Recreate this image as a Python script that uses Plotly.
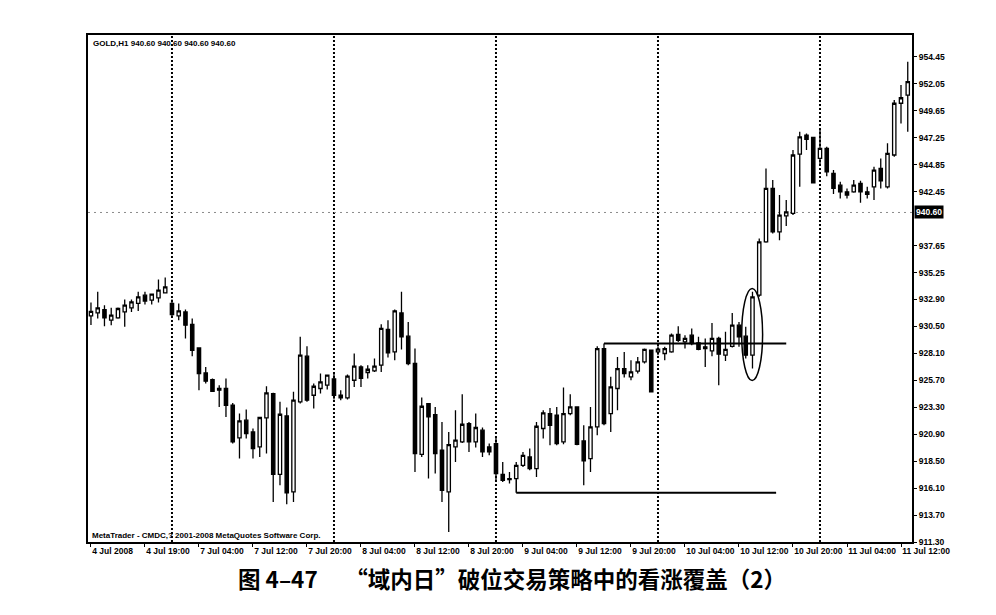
import plotly.graph_objects as go

# ---------------- data (GOLD, H1) ----------------
BAR_INDEX = list(range(-12, 110))  # hourly bars, 0 = 7 Jul 00:00

OPEN = [931.40, 931.67, 931.97, 931.02, 931.23, 931.76, 932.12, 932.51, 933.25, 932.80, 933.01, 933.45,
        932.51, 931.41, 931.76, 930.64, 928.56, 926.33, 925.74, 924.95, 924.95, 923.46, 920.55, 922.13,
        921.09, 919.75, 922.33, 924.50, 917.32, 922.51, 915.75, 923.76, 927.82, 924.35, 924.95, 925.24,
        925.80, 924.35, 924.11, 925.68, 926.87, 926.37, 926.51, 927.02, 930.20, 928.20, 931.67, 929.60,
        927.17, 919.10, 923.61, 922.63, 919.46, 915.75, 919.75, 920.20, 921.83, 920.20, 921.24, 919.75,
        920.05, 917.32, 916.94, 916.94, 918.12, 918.86, 917.83, 921.39, 922.72, 922.57, 920.20, 922.72,
        923.31, 920.29, 918.72, 921.53, 928.50, 922.72, 924.95, 926.72, 925.98, 926.49, 927.31, 928.35,
        928.20, 928.06, 928.20, 929.75, 929.09, 929.69, 929.01, 928.65, 928.29, 929.40, 927.91, 928.70,
        930.58, 929.60, 927.91, 933.25, 937.99, 942.74, 938.88, 940.30, 940.52, 945.79, 947.48, 947.28,
        945.41, 946.30, 944.07, 943.03, 942.44, 942.44, 943.18, 942.44, 942.88, 944.52, 942.88, 945.71,
        950.31, 951.04]
HIGH = [932.60, 933.54, 932.36, 932.12, 932.15, 932.86, 932.86, 933.54, 933.54, 933.40, 934.64, 934.82,
        932.86, 932.51, 931.97, 931.17, 928.60, 926.87, 925.83, 925.24, 925.84, 923.67, 922.72, 923.08,
        921.39, 922.42, 925.15, 924.56, 923.76, 923.26, 924.65, 929.54, 928.71, 925.39, 926.28, 926.19,
        926.42, 924.80, 926.19, 928.06, 927.02, 927.02, 927.62, 930.67, 931.02, 931.97, 933.54, 930.87,
        928.51, 924.15, 923.67, 923.31, 921.98, 921.09, 923.02, 924.44, 921.98, 922.72, 921.48, 920.05,
        920.64, 918.42, 917.53, 918.42, 919.31, 919.61, 921.98, 923.02, 923.22, 923.31, 925.04, 924.44,
        923.37, 921.68, 923.31, 928.71, 928.95, 926.00, 927.76, 928.20, 927.46, 927.76, 928.51, 928.42,
        928.70, 928.65, 929.84, 930.49, 929.69, 930.29, 929.54, 929.40, 930.78, 929.54, 930.00, 931.67,
        930.87, 930.43, 933.54, 938.29, 944.52, 943.48, 942.15, 941.70, 946.15, 947.78, 947.63, 947.30,
        948.08, 946.45, 944.37, 943.33, 942.74, 943.48, 943.42, 942.88, 944.67, 945.41, 946.75, 950.60,
        951.93, 954.01]
LOW = [930.60, 931.17, 930.49, 930.58, 931.15, 930.43, 931.76, 931.85, 932.42, 932.42, 932.60, 933.40,
       931.32, 931.02, 929.40, 927.82, 924.80, 925.39, 924.64, 923.31, 922.42, 920.05, 918.72, 920.50,
       918.72, 918.86, 919.16, 914.86, 916.34, 914.65, 914.86, 923.61, 923.76, 923.17, 924.50, 924.86,
       923.96, 923.91, 923.97, 925.09, 925.09, 925.84, 926.42, 926.42, 927.70, 927.46, 928.42, 927.02,
       917.53, 918.86, 916.94, 917.39, 914.86, 912.19, 918.42, 920.10, 919.31, 919.70, 918.86, 919.01,
       916.79, 916.64, 916.50, 916.90, 917.97, 917.68, 917.08, 920.50, 919.90, 919.90, 919.99, 922.57,
       919.90, 916.34, 917.53, 920.79, 921.68, 921.09, 923.02, 925.93, 925.68, 926.28, 927.17, 924.60,
       927.90, 927.46, 928.12, 929.09, 928.50, 928.80, 928.35, 926.87, 927.82, 925.24, 927.40, 928.60,
       928.65, 927.62, 926.72, 933.10, 937.90, 938.74, 938.14, 939.39, 940.37, 942.88, 946.15, 943.18,
       944.82, 943.83, 942.24, 941.85, 941.85, 942.35, 941.46, 941.85, 941.70, 942.74, 942.74, 945.55,
       948.52, 947.78]
CLOSE = [931.80, 932.12, 931.23, 931.47, 932.06, 932.36, 932.65, 933.10, 932.72, 933.34, 933.69, 933.98,
         931.53, 931.85, 930.58, 928.35, 926.28, 925.60, 924.70, 924.80, 923.46, 920.20, 922.07, 920.94,
         919.61, 922.37, 924.56, 917.32, 922.66, 915.66, 923.91, 927.91, 923.91, 925.15, 925.53, 926.13,
         924.35, 924.11, 926.04, 926.93, 925.84, 926.66, 926.93, 930.29, 928.12, 931.85, 929.54, 927.17,
         919.16, 923.37, 922.42, 919.16, 915.90, 919.96, 920.35, 921.77, 920.20, 921.48, 919.31, 919.31,
         917.39, 916.79, 916.85, 918.12, 919.01, 917.83, 921.59, 922.78, 921.68, 920.05, 922.72, 923.31,
         919.99, 918.51, 921.53, 928.50, 921.83, 925.09, 926.72, 926.28, 926.42, 927.31, 928.42, 924.65,
         928.45, 928.50, 929.69, 929.24, 929.40, 928.95, 928.42, 928.50, 929.40, 928.00, 928.42, 930.58,
         929.54, 927.91, 933.10, 937.99, 942.74, 938.88, 940.37, 940.66, 945.71, 947.33, 947.10, 943.24,
         946.30, 944.22, 942.74, 942.44, 942.15, 943.03, 942.44, 942.21, 944.37, 943.42, 945.86, 950.31,
         950.80, 952.23]

X_TICK_POS = [-12, -4, 4, 12, 20, 28, 36, 44, 52, 60, 68, 76, 84, 92, 100, 108]
X_TICK_TEXT = ["4 Jul 2008", "4 Jul 19:00", "7 Jul 04:00", "7 Jul 12:00", "7 Jul 20:00",
               "8 Jul 04:00", "8 Jul 12:00", "8 Jul 20:00", "9 Jul 04:00", "9 Jul 12:00",
               "9 Jul 20:00", "10 Jul 04:00", "10 Jul 12:00", "10 Jul 20:00", "11 Jul 04:00",
               "11 Jul 12:00"]
Y_TICKS = [911.30, 913.70, 916.10, 918.50, 920.90, 923.30, 925.70, 928.10, 930.50, 932.90,
           935.25, 937.65, 942.45, 944.85, 947.25, 949.65, 952.05, 954.45]
DAY_STARTS = [0, 24, 48, 72, 96]
CURRENT_PRICE = 940.60
RESIST_LEVEL = 928.95
RESIST_FROM, RESIST_TO = 64, 91
SUPPORT_LEVEL = 915.69
SUPPORT_FROM, SUPPORT_TO = 51, 89.5
ELLIPSE_X = (84.4, 87.5)
ELLIPSE_Y = (925.66, 933.85)

# ---------------- figure ----------------
FONT = "Liberation Sans"
fig = go.Figure()
fig.add_trace(go.Candlestick(
    x=BAR_INDEX, open=OPEN, high=HIGH, low=LOW, close=CLOSE,
    increasing=dict(line=dict(color="black", width=1.3), fillcolor="white"),
    decreasing=dict(line=dict(color="black", width=1.3), fillcolor="black"),
    whiskerwidth=0, hoverinfo="skip", showlegend=False,
))

shapes = []
for d in DAY_STARTS:
    shapes.append(dict(type="line", xref="x", yref="paper", x0=d, x1=d, y0=0, y1=1,
                       line=dict(color="black", width=2, dash="2px,2px"), layer="below"))
shapes.append(dict(type="line", xref="paper", yref="y", x0=0, x1=1, y0=CURRENT_PRICE, y1=CURRENT_PRICE,
                   line=dict(color="#8a8a8a", width=1, dash="2px,4px"), layer="below"))
shapes.append(dict(type="line", xref="x", yref="y", x0=RESIST_FROM, x1=RESIST_TO,
                   y0=RESIST_LEVEL, y1=RESIST_LEVEL, line=dict(color="black", width=2)))
shapes.append(dict(type="line", xref="x", yref="y", x0=SUPPORT_FROM, x1=SUPPORT_TO,
                   y0=SUPPORT_LEVEL, y1=SUPPORT_LEVEL, line=dict(color="black", width=2)))
shapes.append(dict(type="line", xref="x", yref="y", x0=SUPPORT_FROM, x1=SUPPORT_FROM,
                   y0=SUPPORT_LEVEL, y1=LOW[BAR_INDEX.index(SUPPORT_FROM)], line=dict(color="black", width=1.5)))
shapes.append(dict(type="circle", xref="x", yref="y", x0=ELLIPSE_X[0], x1=ELLIPSE_X[1],
                   y0=ELLIPSE_Y[0], y1=ELLIPSE_Y[1], line=dict(color="black", width=1.5)))

tickfont = dict(family=FONT, size=8.5, color="black", weight="bold")
annotations = [
    dict(xref="paper", yref="y", x=1, y=CURRENT_PRICE, xanchor="left", yanchor="middle", xshift=2,
         text=f"{CURRENT_PRICE:.2f}", showarrow=False, bgcolor="black", borderpad=1,
         font=dict(family=FONT, size=8.5, color="white", weight="bold")),
    dict(xref="paper", yref="paper", x=0.004, y=0.984, xanchor="left", yanchor="middle",
         text="GOLD,H1 940.60 940.60 940.60 940.60", showarrow=False,
         font=dict(family=FONT, size=8, color="black", weight="bold")),
    dict(xref="paper", yref="paper", x=0.002, y=0.012, xanchor="left", yanchor="middle",
         text="MetaTrader - CMDC,? 2001-2008 MetaQuotes Software Corp.", showarrow=False,
         font=dict(family=FONT, size=8, color="black", weight="bold")),
    dict(xref="paper", yref="paper", x=0.5146, y=-0.071, xanchor="center", yanchor="middle",
         text="图 4–47　 “域内日”破位交易策略中的看涨覆盖（2）", showarrow=False,
         font=dict(family="Noto Sans CJK SC", size=22.5, color="black", weight="bold")),
]

# page body has an 8px margin, so the figure is sized/margined to compensate
fig.update_layout(
    width=988, height=607,
    margin=dict(l=80, r=84, t=27, b=73),
    paper_bgcolor="white", plot_bgcolor="white",
    shapes=shapes, annotations=annotations,
    xaxis=dict(range=[-12.44, 109.63], tickmode="array", tickvals=X_TICK_POS, ticktext=X_TICK_TEXT,
               ticks="outside", ticklen=3, tickcolor="black", showline=True, linecolor="black",
               linewidth=1.5, mirror=True, showgrid=False, zeroline=False, tickfont=tickfont,
               tickangle=0, ticklabelposition="outside right", rangeslider=dict(visible=False)),
    yaxis=dict(side="right", range=[911.3, 956.38], tickmode="array", tickvals=Y_TICKS,
               ticktext=[f"{v:.2f}" for v in Y_TICKS], ticks="outside", ticklen=3, tickcolor="black",
               showline=True, linecolor="black", linewidth=2, mirror=True, showgrid=False,
               zeroline=False, tickfont=tickfont),
)

fig.write_html("out.html")
